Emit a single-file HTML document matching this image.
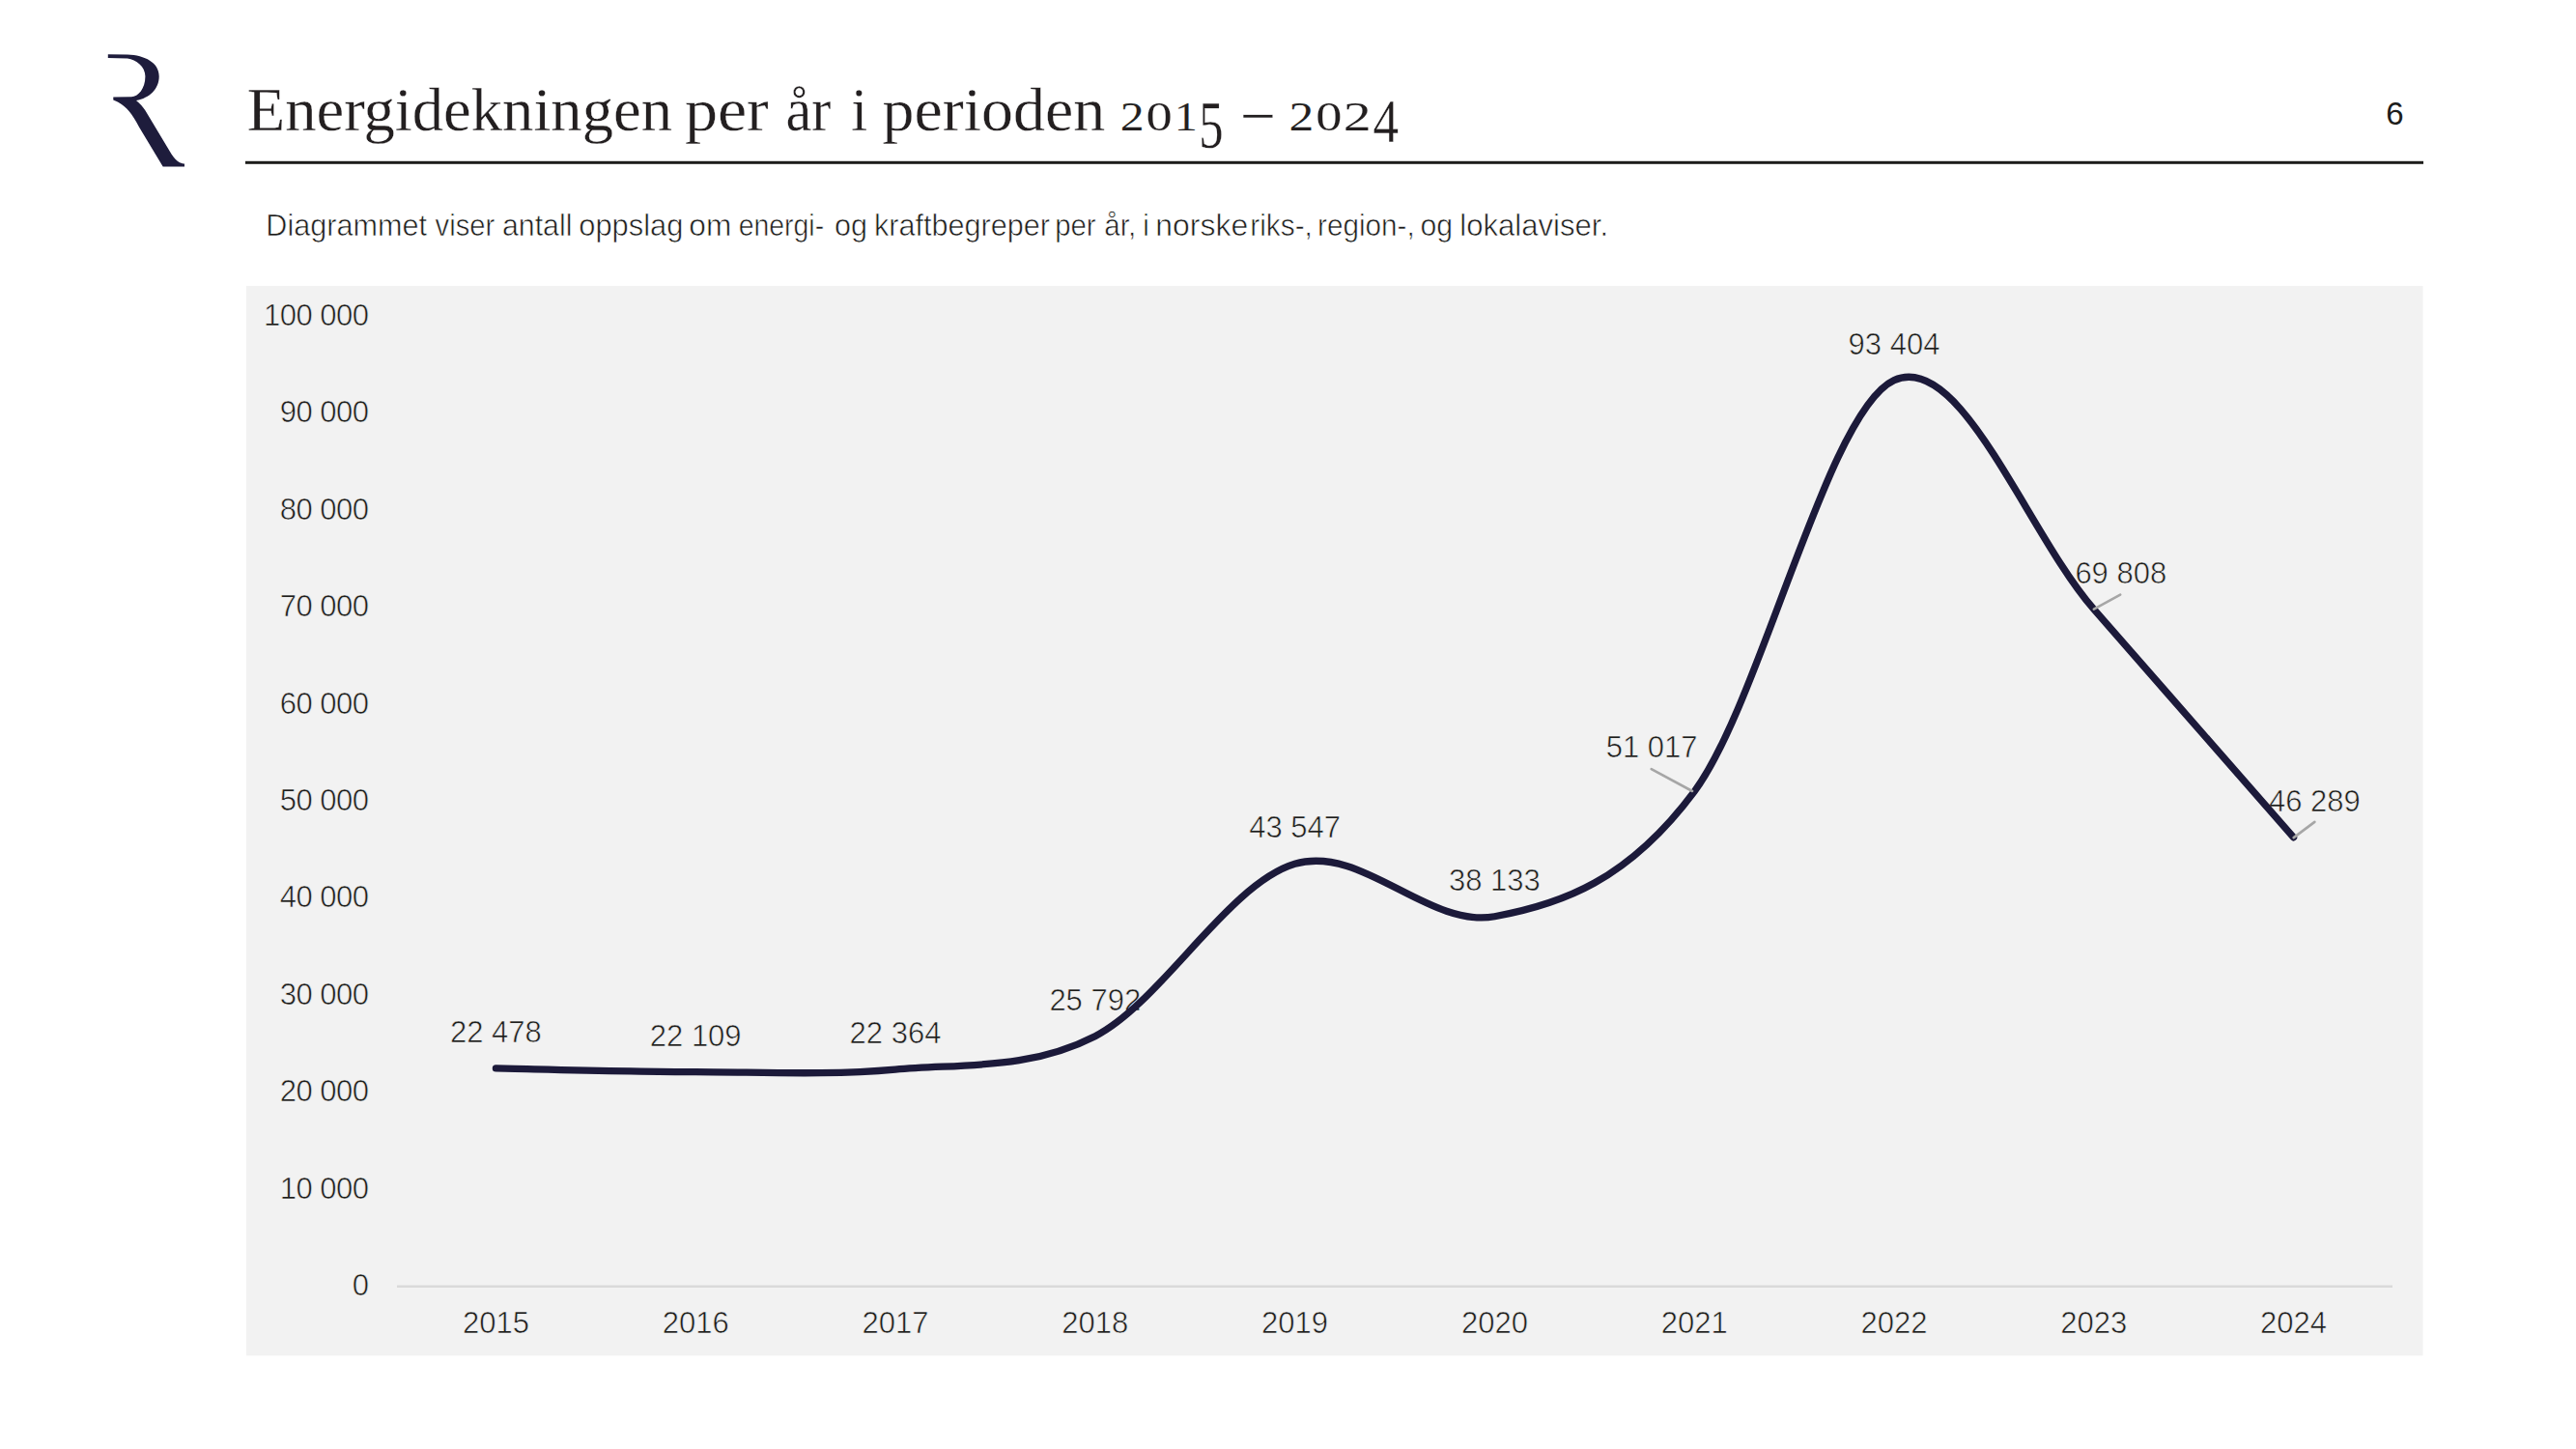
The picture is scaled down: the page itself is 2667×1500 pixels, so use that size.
<!DOCTYPE html><html><head><meta charset="utf-8"><style>
html,body{margin:0;padding:0;background:#fff;}body{width:2667px;height:1500px;overflow:hidden;position:relative;}
svg{position:absolute;left:0;top:0;}text{font-family:"Liberation Sans",sans-serif;}
.serif{font-family:"Liberation Serif",serif;}
</style></head><body>
<svg width="2667" height="1500" viewBox="0 0 2667 1500">
<path fill="#1e1c3c" d="M111.8,56.2 L132,56.6 C150,57.2 164.7,65 164.7,79 C164.7,92 155,101.5 141,104 C145,107.5 148,110.5 150.5,114.5 L177.5,159.6 C180,163.5 183,167 186,168.3 C188,169.2 190,169.5 191,169.5 L191,172.5 L168.7,172.5 L144,131.4 C140,124 137,119 133.5,115 C130.5,111.5 127.5,109 124.7,107.3 C122,105.5 119.5,104.2 117.3,103.5 L117.3,100.6 L136.1,100.3 C143,100 150.4,92 150.4,79 C150.4,69 141,61.6 132,60.5 L111.8,59.9 Z"/>
<text class="serif" x="255.75" y="135.3" font-size="63" fill="#231f20" stroke="#fff" stroke-width="0.3" textLength="440.20" lengthAdjust="spacingAndGlyphs">Energidekningen</text>
<text class="serif" x="708.92" y="135.3" font-size="63" fill="#231f20" stroke="#fff" stroke-width="0.3" textLength="86.87" lengthAdjust="spacingAndGlyphs">per</text>
<text class="serif" x="813.48" y="135.3" font-size="63" fill="#231f20" stroke="#fff" stroke-width="0.3" textLength="46.97" lengthAdjust="spacingAndGlyphs">år</text>
<text class="serif" x="881.13" y="135.3" font-size="63" fill="#231f20" stroke="#fff" stroke-width="0.3" textLength="16.93" lengthAdjust="spacingAndGlyphs">i</text>
<text class="serif" x="913.55" y="135.3" font-size="63" fill="#231f20" stroke="#fff" stroke-width="0.3" textLength="230.59" lengthAdjust="spacingAndGlyphs">perioden</text>
<text class="serif" x="1159.68" y="135.3" font-size="43" fill="#231f20" stroke="#fff" stroke-width="0.1" textLength="24.91" lengthAdjust="spacingAndGlyphs">2</text>
<text class="serif" x="1186.47" y="135.3" font-size="43" fill="#231f20" stroke="#fff" stroke-width="0.1" textLength="27.23" lengthAdjust="spacingAndGlyphs">0</text>
<text class="serif" x="1215.82" y="135.3" font-size="43" fill="#231f20" stroke="#fff" stroke-width="0.1" textLength="24.08" lengthAdjust="spacingAndGlyphs">1</text>
<text class="serif" x="1241.37" y="153" font-size="69" fill="#231f20" stroke="#fff" stroke-width="0.3" textLength="25.26" lengthAdjust="spacingAndGlyphs">5</text>
<text class="serif" x="1287.45" y="135.3" font-size="63" fill="#231f20" stroke="#fff" stroke-width="0.3" textLength="29.78" lengthAdjust="spacingAndGlyphs">–</text>
<text class="serif" x="1334.60" y="135.3" font-size="43" fill="#231f20" stroke="#fff" stroke-width="0.1" textLength="25.80" lengthAdjust="spacingAndGlyphs">2</text>
<text class="serif" x="1362.17" y="135.3" font-size="43" fill="#231f20" stroke="#fff" stroke-width="0.1" textLength="27.23" lengthAdjust="spacingAndGlyphs">0</text>
<text class="serif" x="1390.81" y="135.3" font-size="43" fill="#231f20" stroke="#fff" stroke-width="0.1" textLength="28.96" lengthAdjust="spacingAndGlyphs">2</text>
<text class="serif" x="1421.56" y="147" font-size="63" fill="#231f20" stroke="#fff" stroke-width="0.3" textLength="26.56" lengthAdjust="spacingAndGlyphs">4</text>
<rect x="254" y="166.8" width="2255" height="3" fill="#1d1d1b"/>
<text x="2479.5" y="129" font-size="33" fill="#1d1d1b" text-anchor="middle">6</text>
<text x="275.36" y="243.8" font-size="31.5" fill="#1d1d1b" stroke="#fff" stroke-width="0.6" textLength="166.67" lengthAdjust="spacingAndGlyphs">Diagrammet</text>
<text x="450.60" y="243.8" font-size="31.5" fill="#1d1d1b" stroke="#fff" stroke-width="0.6" textLength="61.58" lengthAdjust="spacingAndGlyphs">viser</text>
<text x="519.94" y="243.8" font-size="31.5" fill="#1d1d1b" stroke="#fff" stroke-width="0.6" textLength="72.49" lengthAdjust="spacingAndGlyphs">antall</text>
<text x="599.22" y="243.8" font-size="31.5" fill="#1d1d1b" stroke="#fff" stroke-width="0.6" textLength="108.18" lengthAdjust="spacingAndGlyphs">oppslag</text>
<text x="713.30" y="243.8" font-size="31.5" fill="#1d1d1b" stroke="#fff" stroke-width="0.6" textLength="43.98" lengthAdjust="spacingAndGlyphs">om</text>
<text x="764.70" y="243.8" font-size="31.5" fill="#1d1d1b" stroke="#fff" stroke-width="0.6" textLength="88.46" lengthAdjust="spacingAndGlyphs">energi-</text>
<text x="864.03" y="243.8" font-size="31.5" fill="#1d1d1b" stroke="#fff" stroke-width="0.6" textLength="33.95" lengthAdjust="spacingAndGlyphs">og</text>
<text x="905.06" y="243.8" font-size="31.5" fill="#1d1d1b" stroke="#fff" stroke-width="0.6" textLength="181.99" lengthAdjust="spacingAndGlyphs">kraftbegreper</text>
<text x="1092.13" y="243.8" font-size="31.5" fill="#1d1d1b" stroke="#fff" stroke-width="0.6" textLength="42.46" lengthAdjust="spacingAndGlyphs">per</text>
<text x="1143.26" y="243.8" font-size="31.5" fill="#1d1d1b" stroke="#fff" stroke-width="0.6" textLength="32.88" lengthAdjust="spacingAndGlyphs">år,</text>
<text x="1183.33" y="243.8" font-size="31.5" fill="#1d1d1b" stroke="#fff" stroke-width="0.6" textLength="6.53" lengthAdjust="spacingAndGlyphs">i</text>
<text x="1196.37" y="243.8" font-size="31.5" fill="#1d1d1b" stroke="#fff" stroke-width="0.6" textLength="95.79" lengthAdjust="spacingAndGlyphs">norske</text>
<text x="1294.31" y="243.8" font-size="31.5" fill="#1d1d1b" stroke="#fff" stroke-width="0.6" textLength="64.61" lengthAdjust="spacingAndGlyphs">riks-,</text>
<text x="1364.12" y="243.8" font-size="31.5" fill="#1d1d1b" stroke="#fff" stroke-width="0.6" textLength="100.53" lengthAdjust="spacingAndGlyphs">region-,</text>
<text x="1470.44" y="243.8" font-size="31.5" fill="#1d1d1b" stroke="#fff" stroke-width="0.6" textLength="33.62" lengthAdjust="spacingAndGlyphs">og</text>
<text x="1511.33" y="243.8" font-size="31.5" fill="#1d1d1b" stroke="#fff" stroke-width="0.6" textLength="153.76" lengthAdjust="spacingAndGlyphs">lokalaviser.</text>
<rect x="255" y="296" width="2253.5" height="1107.4" fill="#f2f2f2"/>
<rect x="411" y="1330.5" width="2066" height="2.4" fill="#d9d9d9"/>
<text x="381.5" y="1341.0" font-size="31" fill="#1d1d1b" stroke="#f2f2f2" stroke-width="0.6" letter-spacing="-0.5" text-anchor="end">0</text>
<text x="381.5" y="1240.6" font-size="31" fill="#1d1d1b" stroke="#f2f2f2" stroke-width="0.6" letter-spacing="-0.5" text-anchor="end">10 000</text>
<text x="381.5" y="1140.2" font-size="31" fill="#1d1d1b" stroke="#f2f2f2" stroke-width="0.6" letter-spacing="-0.5" text-anchor="end">20 000</text>
<text x="381.5" y="1039.8" font-size="31" fill="#1d1d1b" stroke="#f2f2f2" stroke-width="0.6" letter-spacing="-0.5" text-anchor="end">30 000</text>
<text x="381.5" y="939.3" font-size="31" fill="#1d1d1b" stroke="#f2f2f2" stroke-width="0.6" letter-spacing="-0.5" text-anchor="end">40 000</text>
<text x="381.5" y="838.9" font-size="31" fill="#1d1d1b" stroke="#f2f2f2" stroke-width="0.6" letter-spacing="-0.5" text-anchor="end">50 000</text>
<text x="381.5" y="738.5" font-size="31" fill="#1d1d1b" stroke="#f2f2f2" stroke-width="0.6" letter-spacing="-0.5" text-anchor="end">60 000</text>
<text x="381.5" y="638.0" font-size="31" fill="#1d1d1b" stroke="#f2f2f2" stroke-width="0.6" letter-spacing="-0.5" text-anchor="end">70 000</text>
<text x="381.5" y="537.6" font-size="31" fill="#1d1d1b" stroke="#f2f2f2" stroke-width="0.6" letter-spacing="-0.5" text-anchor="end">80 000</text>
<text x="381.5" y="437.2" font-size="31" fill="#1d1d1b" stroke="#f2f2f2" stroke-width="0.6" letter-spacing="-0.5" text-anchor="end">90 000</text>
<text x="381.5" y="336.8" font-size="31" fill="#1d1d1b" stroke="#f2f2f2" stroke-width="0.6" letter-spacing="-0.5" text-anchor="end">100 000</text>
<text x="513.4" y="1380.1" font-size="31" fill="#1d1d1b" stroke="#f2f2f2" stroke-width="0.6" text-anchor="middle">2015</text>
<text x="720.2" y="1380.1" font-size="31" fill="#1d1d1b" stroke="#f2f2f2" stroke-width="0.6" text-anchor="middle">2016</text>
<text x="927.0" y="1380.1" font-size="31" fill="#1d1d1b" stroke="#f2f2f2" stroke-width="0.6" text-anchor="middle">2017</text>
<text x="1133.8" y="1380.1" font-size="31" fill="#1d1d1b" stroke="#f2f2f2" stroke-width="0.6" text-anchor="middle">2018</text>
<text x="1340.6" y="1380.1" font-size="31" fill="#1d1d1b" stroke="#f2f2f2" stroke-width="0.6" text-anchor="middle">2019</text>
<text x="1547.4" y="1380.1" font-size="31" fill="#1d1d1b" stroke="#f2f2f2" stroke-width="0.6" text-anchor="middle">2020</text>
<text x="1754.2" y="1380.1" font-size="31" fill="#1d1d1b" stroke="#f2f2f2" stroke-width="0.6" text-anchor="middle">2021</text>
<text x="1961.0" y="1380.1" font-size="31" fill="#1d1d1b" stroke="#f2f2f2" stroke-width="0.6" text-anchor="middle">2022</text>
<text x="2167.8" y="1380.1" font-size="31" fill="#1d1d1b" stroke="#f2f2f2" stroke-width="0.6" text-anchor="middle">2023</text>
<text x="2374.6" y="1380.1" font-size="31" fill="#1d1d1b" stroke="#f2f2f2" stroke-width="0.6" text-anchor="middle">2024</text>
<text x="513.4" y="1079.0" font-size="31" fill="#1d1d1b" stroke="#f2f2f2" stroke-width="0.6" text-anchor="middle">22 478</text>
<text x="720.2" y="1082.7" font-size="31" fill="#1d1d1b" stroke="#f2f2f2" stroke-width="0.6" text-anchor="middle">22 109</text>
<text x="927.0" y="1080.1" font-size="31" fill="#1d1d1b" stroke="#f2f2f2" stroke-width="0.6" text-anchor="middle">22 364</text>
<text x="1133.8" y="1045.7" font-size="31" fill="#1d1d1b" stroke="#f2f2f2" stroke-width="0.6" text-anchor="middle">25 792</text>
<text x="1340.6" y="867.4" font-size="31" fill="#1d1d1b" stroke="#f2f2f2" stroke-width="0.6" text-anchor="middle">43 547</text>
<text x="1547.4" y="921.7" font-size="31" fill="#1d1d1b" stroke="#f2f2f2" stroke-width="0.6" text-anchor="middle">38 133</text>
<text x="1710.1" y="783.6" font-size="31" fill="#1d1d1b" stroke="#f2f2f2" stroke-width="0.6" text-anchor="middle">51 017</text>
<text x="1961.0" y="366.6" font-size="31" fill="#1d1d1b" stroke="#f2f2f2" stroke-width="0.6" text-anchor="middle">93 404</text>
<text x="2195.8" y="603.9" font-size="31" fill="#1d1d1b" stroke="#f2f2f2" stroke-width="0.6" text-anchor="middle">69 808</text>
<text x="2396.4" y="839.8" font-size="31" fill="#1d1d1b" stroke="#f2f2f2" stroke-width="0.6" text-anchor="middle">46 289</text>
<path d="M513.40,1105.95 C547.87,1106.57 651.27,1109.47 720.20,1109.66 C789.13,1109.85 858.07,1113.26 927.00,1107.10 C995.93,1100.93 1064.87,1108.13 1133.80,1072.67 C1202.73,1037.21 1271.67,915.01 1340.60,894.36 C1409.53,873.70 1478.47,961.23 1547.40,948.73 C1616.33,936.23 1685.27,911.85 1754.20,819.34 C1823.13,726.82 1892.07,425.10 1961.00,393.64 C2029.93,362.19 2098.87,551.76 2167.80,630.62 C2236.73,709.48 2340.13,827.45 2374.60,866.82" fill="none" stroke="#1c1a3a" stroke-width="7.3" stroke-linecap="round" stroke-linejoin="round"/>
<line x1="1709.7" y1="796.2" x2="1752.1" y2="819.0" stroke="#a6a6a6" stroke-width="2.6" stroke-linecap="round"/>
<line x1="2195.2" y1="615.7" x2="2167.8" y2="630.6" stroke="#a6a6a6" stroke-width="2.6" stroke-linecap="round"/>
<line x1="2396.4" y1="850.9" x2="2374.7" y2="867.1" stroke="#a6a6a6" stroke-width="2.6" stroke-linecap="round"/>
</svg></body></html>
